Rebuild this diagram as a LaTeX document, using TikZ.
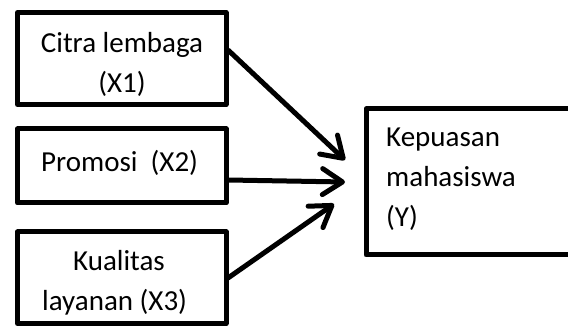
\documentclass[tikz,border=0pt]{standalone}
\usepackage{fontspec}
\setmainfont{Carlito}
\usetikzlibrary{arrows.meta}
\begin{document}
\begin{tikzpicture}[x=1pt,y=-1pt,
  box/.style={draw=black,line width=5pt,line join=round,fill=white,inner sep=0pt},
  lbl/.style={inner sep=0pt,font=\fontsize{29}{40}\selectfont},
  arr/.style={line width=5pt,-{Straight Barb[length=20pt,width=26pt,round]}}]
\useasboundingbox (0,0) rectangle (568,328);
\clip (0,0) rectangle (568,328);
% boxes
\node[box,minimum width=208.5pt,minimum height=92pt] (b1) at (121.75,58.5) {};
\node[box,minimum width=208.5pt,minimum height=74pt] (b2) at (121.75,166) {};
\node[box,minimum width=208.5pt,minimum height=91.5pt] (b3) at (121.75,277.75) {};
\node[box,minimum width=230pt,minimum height=146pt,anchor=north west] (by) at (363.5,106.5) {};
% texts
\node[lbl,anchor=base] (t1a) at (122,53) {Citra lembaga};
\node[lbl,anchor=base] (t1b) at (122,93) {(X1)};
\node[lbl,anchor=base west] (t2) at (41,172) {Promosi\ \ (X2)};
\node[lbl,anchor=base] (t3a) at (119,271) {Kualitas};
\node[lbl,anchor=base west] (t3b) at (42,311) {layanan (X3)};
\node[lbl,anchor=base west] (ty1) at (386,147) {Kepuasan};
\node[lbl,anchor=base west] (ty2) at (386,187) {mahasiswa};
\node[lbl,anchor=base west] (ty3) at (386,227) {(Y)};
% connector ends
\coordinate (s1) at (228,50);
\coordinate (e1) at (345,160);
\coordinate (s2) at (228,180);
\coordinate (e2) at (345,182);
\coordinate (s3) at (228,278);
\coordinate (e3) at (334,204);
\draw[arr] (s1) -- (e1);
\draw[arr] (s2) -- (e2);
\draw[arr] (s3) -- (e3);
\end{tikzpicture}
\end{document}
